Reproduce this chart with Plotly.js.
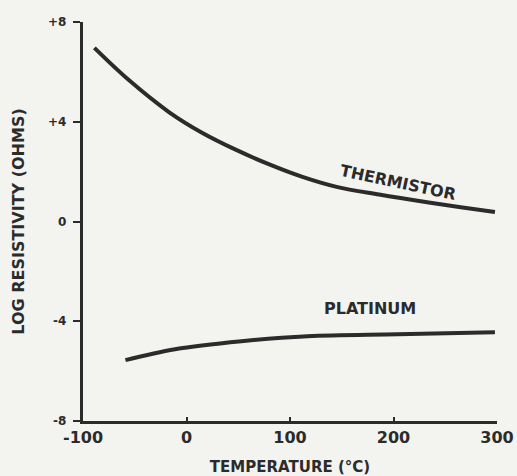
<!DOCTYPE html>
<html>
<head>
<meta charset="utf-8">
<script src="https://cdn.plot.ly/plotly-3.0.1.min.js"></script>
<style>html,body{margin:0;padding:0;background:#f3f3ef;}#chart{width:517px;height:476px;}</style>
</head>
<body>
<div id="chart"></div>
<script>
const thermistorT = [-89, -56, -17, 15, 48, 80, 112, 145, 186, 234, 265, 298];
const thermistorR = [6.96, 5.68, 4.39, 3.56, 2.87, 2.29, 1.79, 1.39, 1.08, 0.76, 0.57, 0.38];
const platinumT = [-59, -11, 53, 117, 204, 298];
const platinumR = [-5.56, -5.12, -4.8, -4.6, -4.52, -4.44];
const xTickVals = [-100, 0, 100, 200, 300];
const xTickText = ['-100', '0', '100', '200', '300'];
const yTickVals = [-8, -4, 0, 4, 8];
const yTickText = ['-8', '-4', '0', '+4', '+8'];

const ink = '#2b2b2b';
const fam = 'DejaVu Sans';
const pad = '\u00a0';

const traces = [
  {x: thermistorT, y: thermistorR, mode: 'lines', line: {color: ink, width: 4, shape: 'spline', smoothing: 1}, hoverinfo: 'none'},
  {x: platinumT, y: platinumR, mode: 'lines', line: {color: ink, width: 4, shape: 'spline', smoothing: 1}, hoverinfo: 'none'}
];

const layout = {
  width: 517, height: 476,
  margin: {l: 83, r: 20, t: 22, b: 55},
  paper_bgcolor: '#f3f3ef', plot_bgcolor: '#f3f3ef',
  showlegend: false,
  font: {family: fam, size: 12, color: ink, weight: 'bold'},
  xaxis: {
    range: [-100, 300], tickvals: xTickVals, ticktext: xTickText,
    showgrid: false, zeroline: false, showline: true, linecolor: ink, linewidth: 3,
    ticks: 'inside', ticklen: 4, tickwidth: 2, tickcolor: ink,
    tickfont: {family: fam, size: 16, color: ink, weight: 'bold'},
    title: {text: 'TEMPERATURE (°C)', font: {family: fam, size: 15, color: ink, weight: 'bold'}, standoff: 16}
  },
  yaxis: {
    range: [-8, 8], tickvals: yTickVals, ticktext: yTickText.map(t => t + pad),
    showgrid: false, zeroline: false, showline: true, linecolor: ink, linewidth: 3,
    ticks: 'outside', ticklen: 7, tickwidth: 2, tickcolor: ink,
    tickfont: {family: fam, size: 12, color: ink, weight: 'bold'},
    title: {text: 'LOG RESISTIVITY (OHMS)', font: {family: fam, size: 16, color: ink, weight: 'bold'}, standoff: 20}
  },
  annotations: [
    {x: 399, y: 183, text: 'THERMISTOR', showarrow: false, textangle: 12,
     font: {family: fam, size: 16, color: ink, weight: 'bold'}},
    {x: 371, y: 309, text: 'PLATINUM', showarrow: false,
     font: {family: fam, size: 16, color: ink, weight: 'bold'}}
  ]
};
// convert annotation pixel positions to data coordinates
function px2x(p){ return -100 + (p - 84) * 100 / 103.5; }
function px2y(p){ return 8 - (p - 22) / 24.94; }
layout.annotations.forEach(a => { a.x = px2x(a.x); a.y = px2y(a.y); a.xref = 'x'; a.yref = 'y'; });

Plotly.newPlot('chart', traces, layout, {staticPlot: true});
</script>
</body>
</html>
